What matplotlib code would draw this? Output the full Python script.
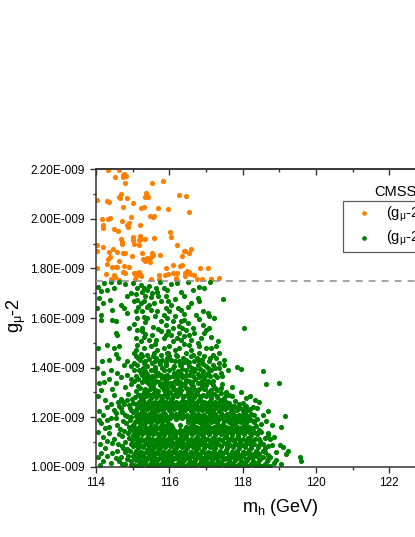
import matplotlib
matplotlib.use("Agg")
import matplotlib.pyplot as plt
from matplotlib.ticker import MultipleLocator, FuncFormatter, NullFormatter

plt.rcParams['font.family'] = ['Liberation Sans', 'DejaVu Sans']
plt.rcParams['mathtext.fontset'] = 'custom'
plt.rcParams['mathtext.rm'] = 'Liberation Sans'
plt.rcParams['mathtext.default'] = 'regular'

# g-2 values are written in units of 1e-9
SCALE = 1e-9
g2_cut = 1.75

# points above the cut (orange)
orange = [
    (114.34, 2.199), (114.62, 2.199), (114.52, 2.168), (114.73, 2.178), (114.77, 2.180),
    (114.82, 2.174), (114.75, 2.170), (114.78, 2.143), (115.53, 2.144), (115.82, 2.151),
    (114.02, 2.077), (114.31, 2.074), (114.35, 2.070), (114.64, 2.089), (114.68, 2.101),
    (114.65, 2.083), (114.84, 2.086), (115.02, 2.066), (115.35, 2.090), (115.40, 2.094),
    (115.36, 2.105), (115.42, 2.087), (116.27, 2.097), (116.45, 2.094), (114.75, 2.046),
    (115.23, 2.043), (115.32, 2.046), (115.69, 2.043), (115.96, 2.038), (116.55, 2.026),
    (114.38, 2.005), (114.34, 1.999), (114.17, 1.999), (114.96, 2.009), (114.72, 1.993),
    (115.47, 2.012), (115.55, 2.007), (115.58, 2.012), (114.18, 1.976), (114.20, 1.965),
    (114.49, 1.961), (114.84, 1.974), (114.91, 1.985), (114.61, 1.953), (114.86, 1.966),
    (115.21, 1.977), (116.02, 1.945), (116.05, 1.925), (115.02, 1.925), (115.00, 1.915),
    (115.03, 1.900), (115.20, 1.931), (115.24, 1.919), (115.18, 1.913), (115.16, 1.895),
    (115.35, 1.920), (115.59, 1.923), (114.68, 1.919), (114.71, 1.907), (114.70, 1.900),
    (114.20, 1.888), (114.47, 1.877), (114.35, 1.865), (114.57, 1.868), (114.73, 1.864),
    (114.79, 1.864), (114.97, 1.851), (115.26, 1.863), (115.53, 1.861), (115.55, 1.855),
    (115.74, 1.853), (116.22, 1.894), (116.44, 1.871), (116.58, 1.877), (116.55, 1.864),
    (116.41, 1.871), (114.02, 1.871), (114.39, 1.847), (114.32, 1.837), (114.29, 1.818),
    (114.64, 1.830), (115.27, 1.839), (115.40, 1.841), (115.49, 1.847), (115.35, 1.829),
    (115.44, 1.833), (115.46, 1.826), (116.35, 1.849), (116.34, 1.815), (116.09, 1.815),
    (114.45, 1.806), (114.55, 1.806), (114.58, 1.804), (114.76, 1.808), (114.90, 1.806),
    (115.91, 1.802), (116.29, 1.810), (116.48, 1.791), (116.53, 1.786), (116.84, 1.802),
    (117.06, 1.801), (114.26, 1.777), (114.50, 1.775), (114.52, 1.766), (114.75, 1.785),
    (114.79, 1.781), (115.04, 1.783), (115.08, 1.781), (115.16, 1.785), (115.20, 1.777),
    (115.10, 1.768), (115.23, 1.771), (115.72, 1.775), (115.88, 1.775), (115.97, 1.778),
    (116.10, 1.781), (116.22, 1.783), (116.43, 1.781), (116.56, 1.778), (116.68, 1.775),
    (116.44, 1.771), (117.15, 1.758), (117.36, 1.760), (116.18, 1.763), (114.02, 1.895),
    (114.02, 1.800), (114.40, 1.757), (114.62, 1.755), (115.06, 1.757), (115.50, 1.758),
    (115.72, 1.756), (116.18, 1.756), (116.75, 1.759), (116.90, 1.756), (117.14, 1.757),
]

# points below the cut (green), split by height
green_top = [
    (114.05, 1.724), (114.13, 1.708), (114.22, 1.741), (114.31, 1.714), (114.49, 1.721),
    (114.40, 1.745), (114.95, 1.701), (115.02, 1.740), (115.22, 1.734), (115.31, 1.721),
    (115.45, 1.728), (115.63, 1.721), (115.67, 1.703), (115.85, 1.721), (115.75, 1.745),
    (115.26, 1.705), (115.40, 1.712), (115.54, 1.702), (116.05, 1.737), (115.94, 1.714),
    (116.32, 1.705), (116.20, 1.742), (116.50, 1.744), (116.82, 1.725), (116.96, 1.721),
    (117.10, 1.745), (116.65, 1.712), (115.12, 1.722), (114.62, 1.745), (114.78, 1.738),
    (114.08, 1.681), (114.38, 1.674), (114.20, 1.660), (114.85, 1.690), (114.67, 1.654),
    (115.04, 1.667), (115.13, 1.674), (115.22, 1.660), (115.31, 1.667), (115.45, 1.654),
    (115.58, 1.660), (115.76, 1.667), (115.90, 1.687), (115.08, 1.697), (115.50, 1.685),
    (115.70, 1.690), (115.96, 1.667), (116.05, 1.654), (116.77, 1.681), (116.82, 1.667),
    (117.46, 1.678), (116.40, 1.690), (116.15, 1.675), (116.60, 1.660), (115.35, 1.690),
    (114.04, 1.640), (114.45, 1.634), (114.13, 1.612), (114.76, 1.640), (115.08, 1.627),
    (115.26, 1.627), (115.49, 1.634), (115.67, 1.627), (115.85, 1.613), (115.95, 1.600),
    (114.85, 1.620), (115.40, 1.645), (115.15, 1.645), (115.60, 1.610), (115.91, 1.640),
    (116.23, 1.640), (116.32, 1.634), (116.00, 1.627), (116.73, 1.613), (116.91, 1.627),
    (117.05, 1.620), (117.09, 1.607), (116.50, 1.645), (116.15, 1.610), (116.40, 1.615),
    (115.30, 1.605), (114.13, 1.593), (114.45, 1.593), (114.54, 1.586), (115.13, 1.600),
    (115.40, 1.600), (115.76, 1.586), (115.90, 1.573), (115.05, 1.575), (115.25, 1.560),
    (115.55, 1.565), (115.70, 1.555), (114.90, 1.560), (116.09, 1.586), (116.32, 1.586),
    (116.41, 1.593), (116.50, 1.580), (116.27, 1.566), (116.36, 1.560), (116.45, 1.553),
    (116.64, 1.560), (116.91, 1.573), (117.00, 1.553), (117.09, 1.560), (117.23, 1.600),
    (118.03, 1.561), (116.80, 1.595), (116.10, 1.560), (115.35, 1.585), (114.54, 1.540),
    (114.58, 1.533), (115.13, 1.550), (115.26, 1.546), (115.35, 1.535), (115.54, 1.533),
    (115.76, 1.546), (115.90, 1.533), (115.08, 1.519), (115.22, 1.506), (115.45, 1.513),
    (115.63, 1.513), (115.85, 1.519), (115.30, 1.525), (115.96, 1.546), (116.05, 1.533),
    (116.27, 1.539), (116.41, 1.526), (116.55, 1.533), (116.68, 1.539), (116.86, 1.519),
    (116.09, 1.506), (116.32, 1.513), (117.32, 1.506), (116.95, 1.540), (117.15, 1.525),
    (116.60, 1.510), (116.20, 1.520),
]

green_mid = [
    (114.05, 1.480), (114.31, 1.492), (114.49, 1.479), (114.63, 1.486), (114.54, 1.455),
    (115.04, 1.459), (115.13, 1.492), (115.31, 1.479), (115.49, 1.486), (115.67, 1.472),
    (115.85, 1.479), (115.22, 1.455), (115.40, 1.452), (115.58, 1.460), (115.76, 1.452),
    (115.95, 1.460), (115.08, 1.470), (115.60, 1.495), (116.55, 1.492), (116.77, 1.499),
    (116.82, 1.486), (116.00, 1.486), (116.27, 1.479), (117.00, 1.479), (117.14, 1.479),
    (117.27, 1.486), (115.96, 1.459), (116.18, 1.452), (116.45, 1.459), (116.64, 1.452),
    (116.82, 1.459), (117.18, 1.452), (117.36, 1.459), (116.40, 1.495), (116.60, 1.470),
    (116.15, 1.470), (114.17, 1.425), (114.35, 1.432), (114.76, 1.412), (114.85, 1.425),
    (114.95, 1.405), (114.60, 1.440), (115.08, 1.445), (115.26, 1.445), (115.13, 1.409),
    (115.31, 1.418), (115.54, 1.418), (115.72, 1.425), (115.90, 1.409), (115.95, 1.439),
    (115.45, 1.435), (115.65, 1.440), (115.20, 1.430), (115.80, 1.430), (116.96, 1.445),
    (117.50, 1.432), (116.05, 1.432), (116.27, 1.425), (116.45, 1.432), (116.68, 1.425),
    (116.86, 1.432), (117.09, 1.425), (117.27, 1.439), (115.91, 1.412), (116.14, 1.405),
    (116.32, 1.412), (116.55, 1.405), (116.77, 1.409), (117.00, 1.405), (117.18, 1.412),
    (117.50, 1.409), (117.86, 1.401), (116.20, 1.445), (116.60, 1.445), (117.35, 1.420),
    (115.40, 1.405), (114.04, 1.398), (114.20, 1.380), (114.40, 1.392), (114.58, 1.377),
    (114.67, 1.363), (114.85, 1.370), (114.95, 1.352), (114.35, 1.355), (115.05, 1.390),
    (115.17, 1.391), (115.35, 1.385), (115.50, 1.392), (115.70, 1.380), (115.85, 1.390),
    (115.10, 1.365), (115.25, 1.370), (115.45, 1.360), (115.60, 1.365), (115.80, 1.358),
    (115.95, 1.370), (116.00, 1.391), (116.23, 1.385), (116.45, 1.391), (116.68, 1.385),
    (116.91, 1.387), (117.14, 1.391), (117.36, 1.398), (117.59, 1.391), (116.10, 1.365),
    (116.35, 1.360), (116.55, 1.370), (116.80, 1.362), (117.00, 1.368), (117.25, 1.372),
    (117.45, 1.365), (117.96, 1.395), (118.56, 1.385), (115.30, 1.352), (116.20, 1.352),
    (116.70, 1.352), (114.08, 1.336), (114.22, 1.343), (114.54, 1.336), (114.13, 1.310),
    (114.45, 1.315), (114.80, 1.320), (114.95, 1.335), (115.05, 1.345), (115.15, 1.325),
    (115.25, 1.340), (115.35, 1.315), (115.45, 1.335), (115.55, 1.320), (115.65, 1.345),
    (115.75, 1.328), (115.85, 1.310), (115.95, 1.340), (115.10, 1.305), (115.40, 1.302),
    (115.70, 1.305), (116.05, 1.325), (116.15, 1.345), (116.25, 1.310), (116.35, 1.335),
    (116.45, 1.318), (116.55, 1.345), (116.65, 1.325), (116.75, 1.305), (116.85, 1.338),
    (116.95, 1.315), (117.05, 1.345), (117.10, 1.305), (117.30, 1.310), (117.55, 1.302),
    (117.70, 1.320), (117.96, 1.303), (118.65, 1.334), (118.98, 1.336), (115.60, 1.308),
    (116.00, 1.302), (116.50, 1.302),
    (115.15, 1.440), (115.35, 1.428), (115.55, 1.445), (115.75, 1.415), (116.00, 1.445),
    (116.38, 1.440), (116.50, 1.418), (116.75, 1.440), (116.92, 1.415), (117.10, 1.438),
    (115.05, 1.420), (115.62, 1.402), (115.22, 1.380), (115.40, 1.373), (115.60, 1.385),
    (115.78, 1.368), (116.12, 1.380), (116.33, 1.375), (116.58, 1.385), (116.78, 1.375),
    (117.05, 1.380), (117.30, 1.360), (115.15, 1.355), (115.52, 1.348), (115.90, 1.352),
    (116.45, 1.350), (116.95, 1.352), (117.20, 1.345), (115.20, 1.318), (115.50, 1.330),
    (115.80, 1.320), (116.10, 1.312), (116.40, 1.328), (116.60, 1.312), (116.90, 1.325),
    (117.20, 1.330), (117.40, 1.318), (115.30, 1.300), (115.90, 1.330), (116.20, 1.338),
    (116.80, 1.312), (117.00, 1.330),
    (115.55, 1.318), (115.80, 1.335), (116.10, 1.325), (116.30, 1.320), (116.60, 1.333),
    (116.88, 1.345), (117.25, 1.318), (117.45, 1.335), (115.40, 1.355), (116.00, 1.360),
    (116.70, 1.395), (116.30, 1.410), (116.90, 1.430), (117.40, 1.380),
]

green_low = [
    (114.05, 1.285), (114.25, 1.270), (114.49, 1.290), (114.60, 1.262), (114.67, 1.275),
    (114.85, 1.270), (114.76, 1.252), (114.40, 1.255), (114.62, 1.245), (114.90, 1.248),
    (114.72, 1.222), (114.55, 1.195), (114.82, 1.178), (114.65, 1.152), (114.35, 1.160),
    (114.50, 1.230), (114.92, 1.190),
    (114.88, 1.292), (114.98, 1.275), (115.00, 1.258), (114.92, 1.238), (115.02, 1.222),
    (114.96, 1.200), (115.00, 1.170), (114.94, 1.150), (114.72, 1.265), (114.78, 1.208),
    (115.14, 1.291), (115.30, 1.298), (115.42, 1.293), (115.58, 1.297),
    (115.70, 1.290), (115.88, 1.295), (116.02, 1.299), (116.15, 1.292), (116.30, 1.296),
    (116.48, 1.291), (116.60, 1.298), (116.75, 1.294), (116.92, 1.290), (117.05, 1.297),
    (117.22, 1.293), (117.40, 1.299), (117.62, 1.291),
    (115.07, 1.282), (115.22, 1.277), (115.36, 1.284), (115.50, 1.279), (115.65, 1.281),
    (115.80, 1.276), (115.95, 1.283), (116.08, 1.278), (116.22, 1.285), (116.38, 1.280),
    (116.54, 1.276), (116.68, 1.283), (116.84, 1.279), (117.00, 1.284), (117.14, 1.277),
    (117.30, 1.281), (117.48, 1.278), (117.70, 1.284), (118.10, 1.276),
    (115.16, 1.262), (115.28, 1.268), (115.45, 1.264), (115.60, 1.261),
    (115.75, 1.266), (115.90, 1.263), (116.04, 1.269), (116.18, 1.262), (116.34, 1.266),
    (116.46, 1.261), (116.62, 1.268), (116.78, 1.264), (116.95, 1.262), (117.10, 1.267),
    (117.26, 1.263), (117.38, 1.269), (117.56, 1.262), (117.80, 1.266),
    (115.10, 1.254), (115.24, 1.249), (115.40, 1.255), (115.55, 1.251), (115.68, 1.248),
    (115.84, 1.253), (116.00, 1.250), (116.12, 1.256), (116.28, 1.249), (116.42, 1.253),
    (116.58, 1.248), (116.72, 1.255), (116.88, 1.251), (117.02, 1.249), (117.18, 1.254),
    (117.34, 1.250), (117.52, 1.256), (117.66, 1.249), (117.90, 1.253), (118.28, 1.242),
    (118.33, 1.270), (118.46, 1.263), (118.20, 1.285),
    (114.08, 1.225), (114.30, 1.240), (114.54, 1.215), (114.67, 1.235), (114.85, 1.205),
    (114.95, 1.228), (114.20, 1.208),
    (115.18, 1.239), (115.32, 1.244), (115.46, 1.240), (115.62, 1.245),
    (115.76, 1.238), (115.92, 1.242), (116.06, 1.246), (116.20, 1.239), (116.36, 1.243),
    (116.50, 1.238), (116.66, 1.245), (116.80, 1.241), (116.96, 1.238), (117.12, 1.244),
    (117.28, 1.240), (117.44, 1.246), (117.60, 1.239), (117.76, 1.243), (117.92, 1.238),
    (118.08, 1.244),
    (115.10, 1.229), (115.25, 1.225), (115.38, 1.231), (115.54, 1.226), (115.68, 1.230),
    (115.84, 1.224), (115.98, 1.229), (116.12, 1.232), (116.28, 1.225), (116.44, 1.230),
    (116.58, 1.226), (116.74, 1.231), (116.88, 1.227), (117.04, 1.224), (117.20, 1.230),
    (117.36, 1.226), (117.52, 1.232), (117.68, 1.225), (117.84, 1.229), (118.00, 1.224),
    (118.16, 1.230),
    (115.16, 1.211), (115.30, 1.217), (115.44, 1.212), (115.60, 1.216),
    (115.74, 1.210), (115.88, 1.214), (116.04, 1.218), (116.18, 1.211), (116.34, 1.215),
    (116.48, 1.210), (116.64, 1.217), (116.78, 1.213), (116.94, 1.210), (117.10, 1.216),
    (117.26, 1.212), (117.42, 1.218), (117.58, 1.211), (117.74, 1.215), (117.90, 1.210),
    (118.06, 1.216), (118.22, 1.212),
    (115.08, 1.203), (115.22, 1.199), (115.36, 1.204), (115.52, 1.200), (115.66, 1.205),
    (115.80, 1.198), (115.96, 1.202), (116.10, 1.206), (116.26, 1.199), (116.40, 1.203),
    (116.56, 1.198), (116.70, 1.205), (116.86, 1.201), (117.02, 1.198), (117.16, 1.204),
    (117.32, 1.200), (117.48, 1.206), (117.64, 1.199), (117.80, 1.203), (117.96, 1.198),
    (118.12, 1.204),
    (118.40, 1.235), (118.55, 1.210), (119.15, 1.204), (118.70, 1.225),
    (114.08, 1.188), (114.13, 1.175), (114.31, 1.188), (114.40, 1.195), (114.58, 1.170),
    (114.75, 1.185), (114.90, 1.160), (114.25, 1.155),
    (115.14, 1.189), (115.28, 1.194), (115.44, 1.190), (115.58, 1.195),
    (115.72, 1.188), (115.88, 1.192), (116.02, 1.196), (116.18, 1.194), (116.34, 1.195),
    (116.50, 1.188), (116.64, 1.195), (116.80, 1.191), (116.94, 1.188), (117.10, 1.194),
    (117.26, 1.190), (117.42, 1.196), (117.58, 1.189), (117.74, 1.193), (117.90, 1.188),
    (118.06, 1.194), (118.22, 1.190), (118.40, 1.192),
    (115.06, 1.179), (115.20, 1.175), (115.36, 1.181), (115.50, 1.176), (115.66, 1.180),
    (115.80, 1.174), (115.96, 1.178), (116.50, 1.182), (116.66, 1.175), (116.82, 1.179),
    (116.98, 1.174), (117.14, 1.181), (117.30, 1.177), (117.46, 1.174), (117.62, 1.180),
    (117.78, 1.176), (117.94, 1.182), (118.10, 1.175), (118.30, 1.179), (118.50, 1.174),
    (115.16, 1.161), (115.30, 1.167), (115.46, 1.162), (115.60, 1.166),
    (115.74, 1.160), (115.90, 1.164), (116.04, 1.168), (116.45, 1.161), (116.58, 1.165),
    (116.74, 1.160), (116.90, 1.167), (117.06, 1.163), (117.22, 1.160), (117.38, 1.166),
    (117.54, 1.162), (117.70, 1.168), (117.86, 1.161), (118.02, 1.165), (118.18, 1.160),
    (118.36, 1.166), (116.28, 1.170),
    (115.10, 1.153), (115.24, 1.149), (115.40, 1.154), (115.54, 1.150), (115.70, 1.155),
    (115.84, 1.148), (116.00, 1.152), (116.14, 1.150), (116.30, 1.149), (116.44, 1.153),
    (116.60, 1.148), (116.76, 1.155), (116.92, 1.151), (117.08, 1.148), (117.24, 1.154),
    (117.40, 1.150), (117.56, 1.156), (117.72, 1.149), (117.88, 1.153), (118.04, 1.148),
    (118.20, 1.154), (118.45, 1.150),
    (119.06, 1.161), (118.65, 1.185), (118.80, 1.170),
]

green_bottom = [
    (114.05, 1.140), (114.20, 1.120), (114.35, 1.135), (114.49, 1.110), (114.63, 1.130),
    (114.76, 1.145), (114.90, 1.115), (114.30, 1.105), (114.88, 1.135), (114.60, 1.090),
    (114.78, 1.058), (114.88, 1.045), (114.62, 1.022), (114.45, 1.055), (114.80, 1.100),
    (115.02, 1.128), (114.97, 1.108), (115.00, 1.082), (114.92, 1.062), (115.00, 1.045),
    (114.95, 1.022), (114.80, 1.012), (114.70, 1.125), (114.75, 1.075), (114.68, 1.040),
    (115.04, 1.143), (115.18, 1.139), (115.34, 1.144), (115.48, 1.140), (115.62, 1.145),
    (115.78, 1.138), (115.92, 1.142), (116.08, 1.146), (116.22, 1.139), (116.38, 1.143),
    (116.52, 1.138), (116.68, 1.145), (116.84, 1.141), (117.00, 1.138), (117.16, 1.144),
    (117.32, 1.140), (117.48, 1.146), (117.64, 1.139), (117.80, 1.143), (117.96, 1.138),
    (118.12, 1.144), (118.30, 1.140), (118.50, 1.142),
    (115.12, 1.125), (115.26, 1.131), (115.42, 1.126), (115.56, 1.130),
    (115.72, 1.124), (115.86, 1.128), (116.02, 1.132), (116.16, 1.125), (116.32, 1.129),
    (116.46, 1.124), (116.62, 1.131), (116.78, 1.127), (116.92, 1.124), (117.08, 1.130),
    (117.24, 1.126), (117.40, 1.132), (117.56, 1.125), (117.72, 1.129), (117.88, 1.124),
    (118.04, 1.130), (118.22, 1.126), (118.40, 1.131), (118.69, 1.128),
    (115.08, 1.115), (115.22, 1.111), (115.38, 1.116), (115.52, 1.112), (115.68, 1.117),
    (115.82, 1.110), (115.98, 1.114), (116.12, 1.118), (116.28, 1.111), (116.42, 1.115),
    (116.58, 1.110), (116.72, 1.117), (116.88, 1.113), (117.04, 1.110), (117.20, 1.116),
    (117.36, 1.112), (117.52, 1.118), (117.68, 1.111), (117.84, 1.115), (118.00, 1.110),
    (118.16, 1.116), (118.34, 1.112), (118.60, 1.114), (118.74, 1.110),
    (115.16, 1.099), (115.30, 1.104), (115.46, 1.100), (115.60, 1.105),
    (115.76, 1.098), (115.90, 1.102), (116.06, 1.106), (116.20, 1.099), (116.36, 1.103),
    (116.50, 1.098), (116.66, 1.105), (116.82, 1.101), (116.96, 1.098), (117.12, 1.104),
    (117.28, 1.100), (117.44, 1.106), (117.60, 1.099), (117.76, 1.103), (117.92, 1.098),
    (118.08, 1.104), (118.26, 1.100), (118.48, 1.102),
    (118.69, 1.135), (118.85, 1.120),
    (114.10, 1.090), (114.25, 1.075), (114.45, 1.095), (114.58, 1.065), (114.70, 1.085),
    (114.85, 1.070), (114.95, 1.092), (114.15, 1.055),
    (115.06, 1.093), (115.20, 1.089), (115.36, 1.094), (115.50, 1.090), (115.66, 1.095),
    (115.80, 1.088), (115.96, 1.092), (116.10, 1.096), (116.26, 1.089), (116.40, 1.093),
    (116.56, 1.088), (116.70, 1.095), (116.86, 1.091), (117.02, 1.088), (117.18, 1.094),
    (117.34, 1.090), (117.50, 1.096), (117.66, 1.089), (117.82, 1.093), (117.98, 1.088),
    (118.14, 1.094), (118.32, 1.090), (118.55, 1.092), (118.80, 1.089), (119.01, 1.087),
    (115.14, 1.075), (115.28, 1.081), (115.44, 1.076), (115.58, 1.080),
    (115.74, 1.074), (115.88, 1.078), (116.04, 1.082), (116.18, 1.075), (116.34, 1.079),
    (116.48, 1.074), (116.64, 1.081), (116.78, 1.077), (116.94, 1.074), (117.10, 1.080),
    (117.26, 1.076), (117.42, 1.082), (117.58, 1.075), (117.74, 1.079), (117.90, 1.074),
    (118.06, 1.080), (118.22, 1.076), (118.42, 1.081), (118.62, 1.077),
    (115.10, 1.065), (115.24, 1.061), (115.40, 1.066), (115.54, 1.062), (115.70, 1.067),
    (115.84, 1.060), (116.00, 1.064), (116.14, 1.068), (116.30, 1.061), (116.44, 1.065),
    (116.60, 1.060), (116.74, 1.067), (116.90, 1.063), (117.06, 1.060), (117.22, 1.066),
    (117.38, 1.062), (117.54, 1.068), (117.70, 1.061), (117.86, 1.065), (118.02, 1.060),
    (118.18, 1.066), (118.36, 1.062), (118.56, 1.064), (118.90, 1.061),
    (115.04, 1.053), (115.18, 1.049), (115.32, 1.054), (115.48, 1.050), (115.62, 1.055),
    (115.78, 1.048), (115.92, 1.052), (116.08, 1.056), (116.22, 1.049), (116.38, 1.053),
    (116.52, 1.048), (116.68, 1.055), (116.84, 1.051), (117.00, 1.048), (117.14, 1.054),
    (117.30, 1.050), (117.46, 1.056), (117.62, 1.049), (117.78, 1.053), (117.94, 1.048),
    (118.10, 1.054), (118.28, 1.050), (118.46, 1.052), (118.70, 1.049), (119.19, 1.050),
    (119.10, 1.080), (119.25, 1.065),
    (114.05, 1.040), (114.20, 1.025), (114.40, 1.015), (114.55, 1.035), (114.70, 1.010),
    (114.85, 1.030), (114.30, 1.045), (114.95, 1.008), (114.12, 1.005),
    (115.14, 1.037), (115.28, 1.042), (115.42, 1.038), (115.58, 1.043),
    (115.72, 1.036), (115.88, 1.040), (116.02, 1.044), (116.16, 1.037), (116.32, 1.041),
    (116.46, 1.036), (116.62, 1.043), (116.76, 1.039), (116.92, 1.036), (117.06, 1.042),
    (117.22, 1.038), (117.38, 1.044), (117.54, 1.037), (117.70, 1.041), (117.86, 1.036),
    (118.02, 1.042), (118.18, 1.038), (118.36, 1.043), (118.56, 1.039), (118.76, 1.041),
    (119.56, 1.038),
    (115.08, 1.027), (115.22, 1.023), (115.36, 1.028), (115.52, 1.024), (115.66, 1.029),
    (115.82, 1.022), (115.96, 1.026), (116.10, 1.030), (116.26, 1.023), (116.40, 1.027),
    (116.56, 1.022), (116.70, 1.029), (116.86, 1.025), (117.00, 1.022), (117.16, 1.028),
    (117.32, 1.024), (117.48, 1.030), (117.64, 1.023), (117.80, 1.027), (117.96, 1.022),
    (118.12, 1.028), (118.28, 1.024), (118.46, 1.029), (118.66, 1.025), (118.90, 1.027),
    (119.60, 1.024),
    (115.16, 1.010), (115.30, 1.015), (115.46, 1.011), (115.60, 1.016),
    (115.76, 1.009), (115.90, 1.013), (116.04, 1.017), (116.20, 1.010), (116.34, 1.014),
    (116.50, 1.009), (116.64, 1.016), (116.80, 1.012), (116.94, 1.009), (117.10, 1.015),
    (117.26, 1.011), (117.42, 1.017), (117.58, 1.010), (117.74, 1.014), (117.90, 1.009),
    (118.06, 1.015), (118.22, 1.011), (118.40, 1.016), (118.60, 1.012), (118.85, 1.014),
    (119.05, 1.010),
    (115.10, 1.003), (115.24, 1.001), (115.40, 1.004), (115.54, 1.002), (115.70, 1.005),
    (115.84, 1.001), (116.00, 1.003), (116.14, 1.005), (116.30, 1.002), (116.44, 1.004),
    (116.60, 1.001), (116.74, 1.005), (116.90, 1.003), (117.04, 1.001), (117.20, 1.004),
    (117.36, 1.002), (117.52, 1.005), (117.68, 1.001), (117.84, 1.003), (118.00, 1.001),
    (118.16, 1.004), (118.34, 1.002), (118.52, 1.003), (118.75, 1.001),
]

# extra points read from the densest part of the cloud
green_core = [
    (115.21, 1.289), (115.35, 1.286), (115.49, 1.290), (115.63, 1.287), (115.78, 1.285),
    (115.93, 1.289), (116.09, 1.286), (116.23, 1.290), (116.40, 1.287), (116.55, 1.285),
    (116.70, 1.289), (116.86, 1.286), (117.13, 1.288), (117.30, 1.285), (117.55, 1.289),
    (115.18, 1.258), (115.34, 1.256), (115.52, 1.259), (115.67, 1.257), (115.82, 1.260),
    (115.97, 1.256), (116.10, 1.259), (116.25, 1.257), (116.40, 1.260), (116.54, 1.256),
    (116.70, 1.258), (116.86, 1.260), (117.03, 1.256), (117.18, 1.259), (117.32, 1.257),
    (117.47, 1.260), (117.62, 1.256), (118.02, 1.257),
    (115.12, 1.236), (115.26, 1.233), (115.40, 1.235), (115.58, 1.237), (115.70, 1.233),
    (115.86, 1.236), (116.00, 1.234), (116.16, 1.237), (116.32, 1.233), (116.46, 1.235),
    (116.62, 1.237), (116.78, 1.234), (116.92, 1.236), (117.08, 1.233), (117.24, 1.237),
    (117.40, 1.234), (117.56, 1.236), (117.72, 1.233), (117.88, 1.235), (118.04, 1.237),
    (118.20, 1.234),
    (115.12, 1.208), (115.28, 1.206), (115.42, 1.209), (115.58, 1.207), (115.72, 1.205),
    (115.86, 1.208), (116.02, 1.206), (116.16, 1.209), (116.30, 1.207), (116.46, 1.205),
    (116.62, 1.208), (116.76, 1.206), (116.92, 1.209), (117.08, 1.205), (117.24, 1.208),
    (117.40, 1.206), (117.54, 1.209), (117.70, 1.207), (117.86, 1.205), (118.02, 1.208),
    (118.18, 1.206), (118.32, 1.209),
    (115.08, 1.186), (115.22, 1.184), (115.37, 1.187), (115.52, 1.185), (115.66, 1.183),
    (115.80, 1.186), (115.95, 1.184), (116.58, 1.187), (116.72, 1.185), (116.88, 1.183),
    (117.02, 1.186), (117.18, 1.184), (117.34, 1.187), (117.50, 1.185), (117.66, 1.183),
    (117.82, 1.186), (117.98, 1.184), (118.14, 1.187), (118.30, 1.185),
    (115.04, 1.159), (115.20, 1.157), (115.34, 1.160), (115.50, 1.158), (115.64, 1.156),
    (115.78, 1.159), (115.94, 1.157), (116.08, 1.160), (116.52, 1.157), (116.68, 1.159),
    (116.82, 1.156), (116.98, 1.159), (117.14, 1.157), (117.30, 1.160), (117.46, 1.158),
    (117.62, 1.156), (117.78, 1.159), (117.94, 1.157), (118.10, 1.160), (118.28, 1.158),
    (115.10, 1.136), (115.25, 1.134), (115.40, 1.137), (115.55, 1.135), (115.70, 1.133),
    (115.85, 1.136), (116.00, 1.134), (116.15, 1.137), (116.30, 1.135), (116.45, 1.133),
    (116.60, 1.136), (116.75, 1.134), (116.90, 1.137), (117.08, 1.133), (117.24, 1.136),
    (117.40, 1.134), (117.56, 1.137), (117.72, 1.135), (117.88, 1.133), (118.04, 1.136),
    (118.20, 1.134), (118.40, 1.137),
    (115.12, 1.109), (115.30, 1.107), (115.45, 1.110), (115.60, 1.108), (115.75, 1.106),
    (115.90, 1.109), (116.05, 1.107), (116.20, 1.110), (116.35, 1.108), (116.50, 1.106),
    (116.65, 1.109), (116.80, 1.107), (116.96, 1.110), (117.12, 1.106), (117.28, 1.109),
    (117.44, 1.107), (117.60, 1.110), (117.76, 1.108), (117.92, 1.106), (118.08, 1.109),
    (118.24, 1.107), (118.44, 1.110),
    (115.13, 1.086), (115.28, 1.084), (115.43, 1.087), (115.58, 1.085), (115.73, 1.083),
    (115.88, 1.086), (116.03, 1.084), (116.18, 1.087), (116.33, 1.085), (116.48, 1.083),
    (116.63, 1.086), (116.78, 1.084), (116.94, 1.087), (117.10, 1.083), (117.26, 1.086),
    (117.42, 1.084), (117.58, 1.087), (117.74, 1.085), (117.90, 1.083), (118.06, 1.086),
    (118.24, 1.084), (118.45, 1.087), (118.68, 1.085),
    (115.12, 1.059), (115.26, 1.057), (115.40, 1.060), (115.56, 1.058), (115.70, 1.056),
    (115.85, 1.059), (116.00, 1.057), (116.16, 1.060), (116.30, 1.058), (116.46, 1.056),
    (116.60, 1.059), (116.76, 1.057), (116.92, 1.060), (117.08, 1.056), (117.22, 1.059),
    (117.38, 1.057), (117.54, 1.060), (117.70, 1.058), (117.86, 1.056), (118.02, 1.059),
    (118.18, 1.057), (118.38, 1.060), (118.60, 1.058),
    (115.07, 1.034), (115.21, 1.032), (115.35, 1.035), (115.50, 1.033), (115.65, 1.031),
    (115.80, 1.034), (115.95, 1.032), (116.09, 1.035), (116.24, 1.033), (116.39, 1.031),
    (116.54, 1.034), (116.69, 1.032), (116.84, 1.035), (116.99, 1.031), (117.14, 1.034),
    (117.30, 1.032), (117.46, 1.035), (117.62, 1.033), (117.78, 1.031), (117.94, 1.034),
    (118.10, 1.032), (118.27, 1.035), (118.48, 1.033), (118.70, 1.031),
    (115.05, 1.008), (115.20, 1.007), (115.35, 1.009), (115.49, 1.008), (115.63, 1.006),
    (115.78, 1.009), (115.93, 1.007), (116.08, 1.009), (116.23, 1.008), (116.38, 1.006),
    (116.53, 1.009), (116.68, 1.007), (116.83, 1.009), (116.98, 1.006), (117.13, 1.009),
    (117.28, 1.007), (117.44, 1.009), (117.60, 1.008), (117.76, 1.006), (117.92, 1.009),
    (118.08, 1.007), (118.26, 1.009), (118.45, 1.008), (118.65, 1.006),
    (115.48, 1.313), (115.62, 1.310), (115.95, 1.314), (116.18, 1.311), (116.32, 1.309),
    (116.52, 1.313), (116.70, 1.310), (116.98, 1.312), (117.15, 1.309),
    (115.38, 1.341), (115.58, 1.338), (115.72, 1.342), (115.85, 1.339), (116.05, 1.337),
    (116.28, 1.341), (116.42, 1.338), (116.62, 1.342), (116.78, 1.339), (116.92, 1.337),
    (117.12, 1.341),
    (115.35, 1.369), (115.52, 1.366), (115.70, 1.370), (115.88, 1.367), (116.22, 1.365),
    (116.45, 1.369), (116.65, 1.366), (116.90, 1.370), (117.12, 1.367),
    (115.28, 1.399), (115.60, 1.396), (115.80, 1.400), (116.10, 1.397), (116.35, 1.395),
    (116.62, 1.399), (116.85, 1.396), (117.05, 1.400), (117.25, 1.397),
    (115.60, 1.426), (115.90, 1.423), (116.15, 1.427), (116.40, 1.424), (116.55, 1.422),
    (116.80, 1.426),
]

orange_color = '#FF8000'
green_color = '#008000'

fig = plt.figure(figsize=(4.15, 5.37), dpi=100)
ax = fig.add_axes([96 / 415, 70.3 / 537, 366.5 / 415, 297.4 / 537])

green = green_top + green_mid + green_low + green_bottom + green_core
gx = [p[0] for p in green]
gy = [p[1] * SCALE for p in green]
ox = [p[0] for p in orange]
oy = [p[1] * SCALE for p in orange]

ax.scatter(ox, oy, s=14, color=orange_color, linewidths=0, zorder=2,
           label='(g$_{\\mu}$-2)$_{SUSY}$ > 1.75E-009')
ax.scatter(gx, gy, s=14, color=green_color, linewidths=0, zorder=2,
           label='(g$_{\\mu}$-2)$_{SUSY}$ < 1.75E-009')
ax.axhline(g2_cut * SCALE, color='#8c8c8c', lw=1.1, ls=(0, (4.5, 4)), zorder=3)

ax.set_xlim(114, 124)
ax.set_ylim(1.0e-9, 2.2e-9)
ax.xaxis.set_major_locator(MultipleLocator(2))
ax.xaxis.set_minor_locator(MultipleLocator(1))
ax.yaxis.set_major_locator(MultipleLocator(0.2e-9))
ax.yaxis.set_minor_locator(MultipleLocator(0.1e-9))
ax.yaxis.set_major_formatter(FuncFormatter(lambda v, p: f"{v / SCALE:.2f}E-009"))

for side in ['left', 'bottom', 'top']:
    ax.spines[side].set_linewidth(1.1)
    ax.spines[side].set_color('#333333')
ax.spines['right'].set_visible(False)

ax.tick_params(axis='both', which='both', direction='out', colors='#333333',
               labelcolor='black', labelsize=8.5, width=1.0)
ax.tick_params(which='major', length=4.5)
ax.tick_params(which='minor', length=2.5)
ax.xaxis.set_tick_params(which='both', pad=3)

# top axis: ticks pointing inward, no labels
top = ax.secondary_xaxis('top')
top.xaxis.set_major_locator(MultipleLocator(2))
top.xaxis.set_minor_locator(MultipleLocator(1))
top.xaxis.set_major_formatter(NullFormatter())
top.tick_params(which='both', direction='in', colors='#333333', width=1.0)
top.tick_params(which='major', length=4.5)
top.tick_params(which='minor', length=2.5)
top.spines['top'].set_linewidth(1.1)
top.spines['top'].set_color('#333333')

fig.text(16 / 415, 1 - 315 / 537, 'g$_{\\mu}$-2', rotation=90, ha='center', va='center',
         fontsize=13)
fig.text(280 / 415, 1 - 507 / 537, 'm$_{h}$ (GeV)', ha='center', va='center', fontsize=13)

fig.text(374 / 415, 1 - 192 / 537, 'CMSSM', ha='left', va='center', fontsize=10.5)
leg = ax.legend(loc='upper left', bbox_to_anchor=(343 / 415, 1 - 200.7 / 537),
                bbox_transform=fig.transFigure, borderaxespad=0, fontsize=10.5,
                frameon=True, fancybox=False, handlelength=2.4, handletextpad=0.3,
                labelspacing=0.35, borderpad=0.25, scatterpoints=1, markerscale=0.9)
leg.get_frame().set_edgecolor('#333333')
leg.get_frame().set_linewidth(0.9)

fig.savefig('out.png', dpi=100)
